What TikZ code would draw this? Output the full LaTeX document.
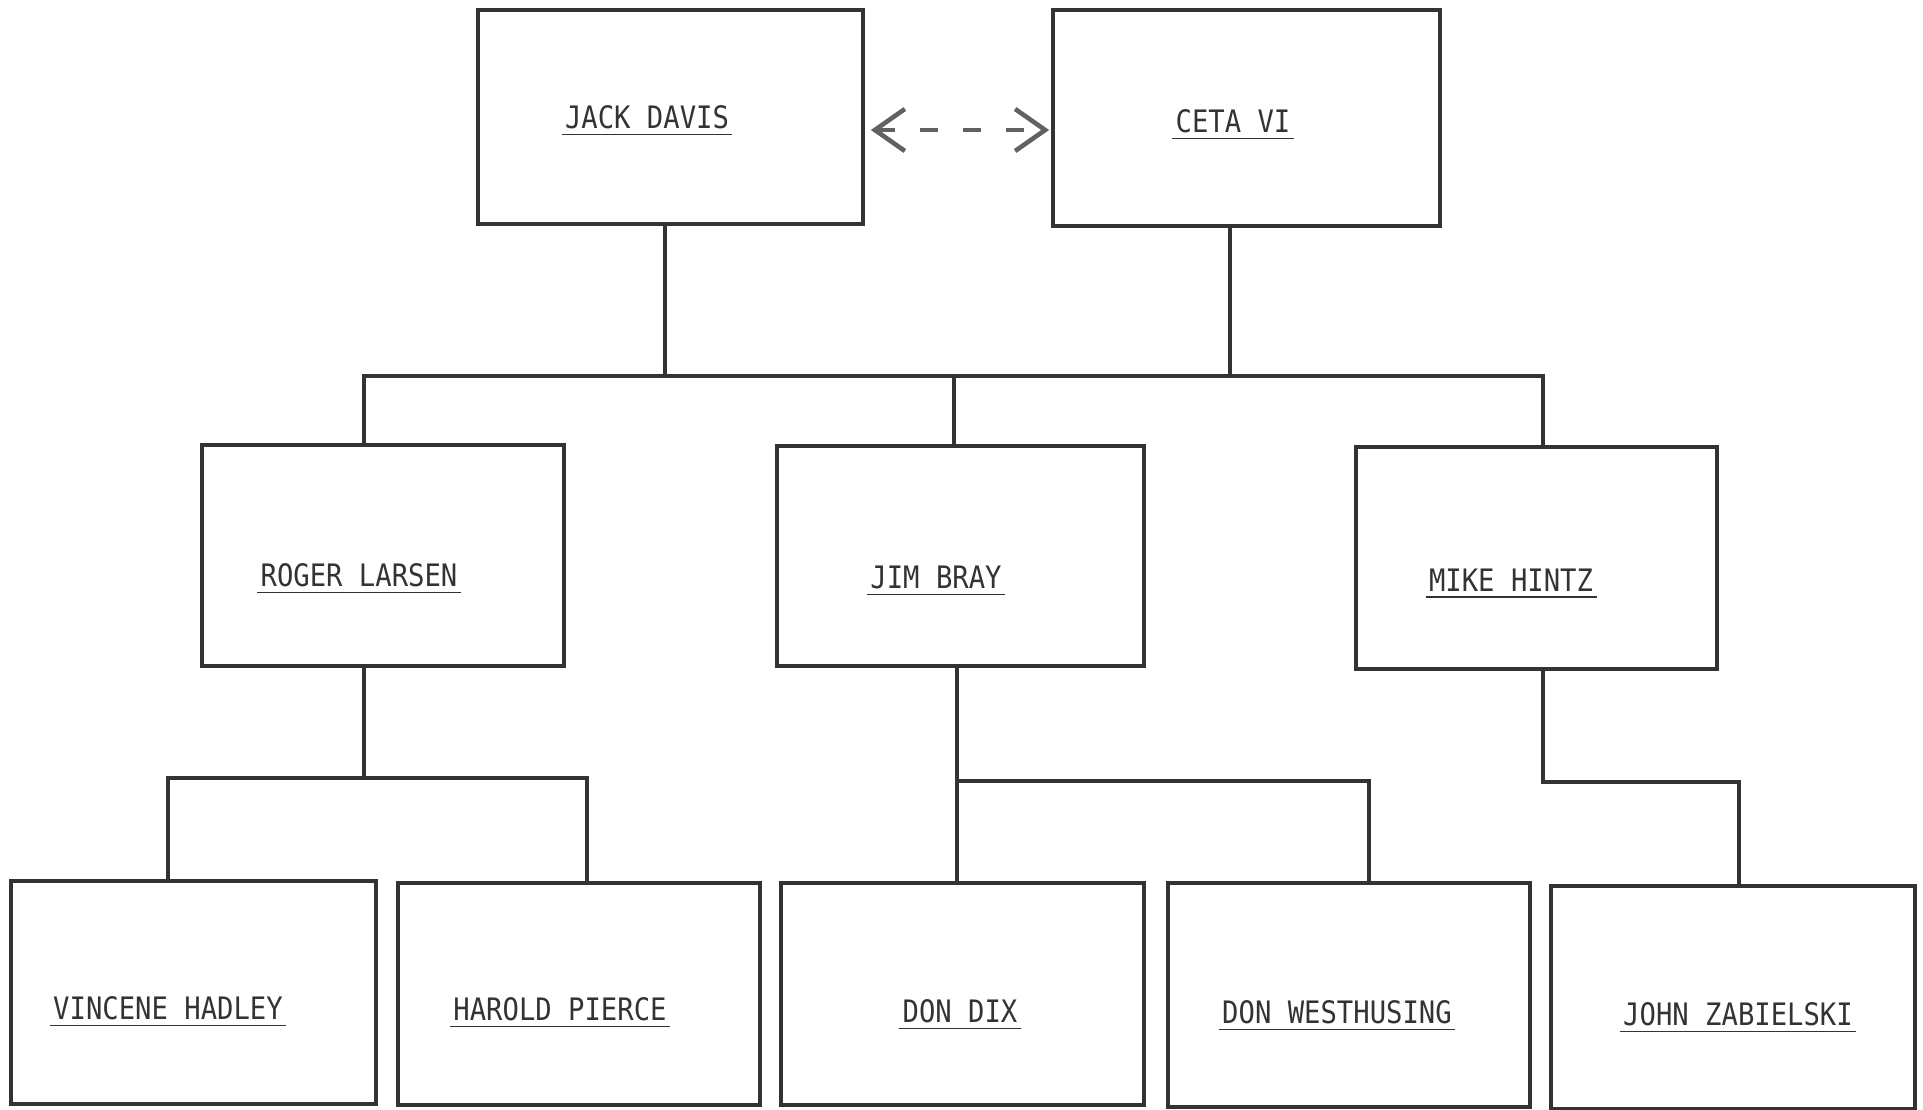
\documentclass[tikz,border=0pt]{standalone}
\usepackage{fontspec}
\usepackage{xcolor}
\usepackage{tikz}
\usetikzlibrary{calc,arrows.meta,positioning}
\newfontfamily\typefont[FakeStretch=0.88]{DejaVu Sans Mono}
\colorlet{inkA}{black!80}
\colorlet{inkB}{black!62}
\newcommand{\uname}[1]{\underline{\kern1pt#1\kern1pt}}

\begin{document}
\begin{tikzpicture}[x=0.01cm, y=-0.01cm,
    box/.style={draw=inkA, line width=1pt, rectangle, inner sep=0pt},
    wire/.style={draw=inkA, line width=0.95pt},
    person/.style={anchor=base, inner sep=0pt, text=inkA,
      font=\typefont\fontsize{8.8}{10}\selectfont},
    link/.style={draw=inkB, line width=1.3pt, dash pattern=on 1.8mm off 2.5mm,
      {Straight Barb[length=3mm, width=4.2mm]}-{Straight Barb[length=3mm, width=4.2mm]}}]
      \useasboundingbox (0,0) rectangle (1923,1110);

      % Top row
      \node[box, minimum width=3.85cm, minimum height=2.14cm] (jack) at (670.5,117) {};
      \node[box, minimum width=3.87cm, minimum height=2.16cm] (ceta) at (1246.5,118) {};

      % Middle row
      \node[box, minimum width=3.62cm, minimum height=2.21cm] (roger) at (383,555.5) {};
      \node[box, minimum width=3.67cm, minimum height=2.20cm] (jim) at (960.5,556) {};
      \node[box, minimum width=3.61cm, minimum height=2.22cm] (mike) at (1536.5,558) {};

      % Bottom row
      \node[box, minimum width=3.65cm, minimum height=2.23cm] (vincene) at (193.5,992.5) {};
      \node[box, minimum width=3.62cm, minimum height=2.22cm] (harold) at (579,994) {};
      \node[box, minimum width=3.63cm, minimum height=2.22cm] (dix) at (962.5,994) {};
      \node[box, minimum width=3.62cm, minimum height=2.24cm] (west) at (1349,995) {};
      \node[box, minimum width=3.64cm, minimum height=2.23cm] (john) at (1733,997.5) {};

      % Names
      \node[person] (jackname) at (647,129) {\uname{JACK DAVIS}};
      \node[person] (cetaname) at (1233,133) {\uname{CETA VI}};
      \node[person] (rogername) at (359,587) {\uname{ROGER LARSEN}};
      \node[person] (jimname) at (936,589) {\uname{JIM BRAY}};
      \node[person] (mikename) at (1511,592) {\uname{MIKE HINTZ}};
      \node[person] (vincenename) at (168,1020) {\uname{VINCENE HADLEY}};
      \node[person] (haroldname) at (560,1021) {\uname{HAROLD PIERCE}};
      \node[person] (dixname) at (960,1023) {\uname{DON DIX}};
      \node[person] (westname) at (1337,1024) {\uname{DON WESTHUSING}};
      \node[person] (johnname) at (1738,1026) {\uname{JOHN ZABIELSKI}};

      % Dashed link between the two heads
      \draw[link] ([shift={(6,13)}]jack.east) -- ([shift={(-2,12)}]ceta.west);

      % Elbow points
      \coordinate (jd) at (665,376);
      \coordinate (cd) at (1230,377);
      \coordinate (barL) at (364,376);
      \coordinate (barM) at (954,376);
      \coordinate (barR) at (1543,376);
      \coordinate (rm) at (364,778);
      \coordinate (rL) at (168,778);
      \coordinate (rR) at (587,778);
      \coordinate (jm) at (957,781);
      \coordinate (jR) at (1369,781);
      \coordinate (mL) at (1543,782);
      \coordinate (mR) at (1739,782);

      % Top to middle
      \draw[wire] (jd |- jack.south) -- (jd);
      \draw[wire] (cd |- ceta.south) -- (cd);
      \draw[wire] (barL |- roger.north) -- (barL) -- (barR) -- (barR |- mike.north);
      \draw[wire] (barM) -- (barM |- jim.north);

      % Middle to bottom
      \draw[wire] (rm |- roger.south) -- (rm);
      \draw[wire] (rL |- vincene.north) -- (rL) -- (rR) -- (rR |- harold.north);
      \draw[wire] (jm |- jim.south) -- (jm |- dix.north);
      \draw[wire] (jm) -- (jR) -- (jR |- west.north);
      \draw[wire] (mL |- mike.south) -- (mL) -- (mR) -- (mR |- john.north);
\end{tikzpicture}
\end{document}
